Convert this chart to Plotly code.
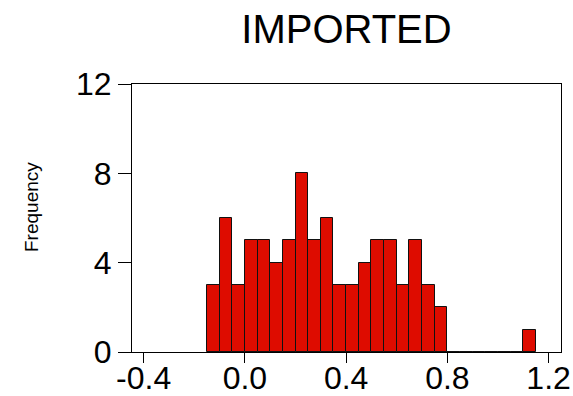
import plotly.graph_objects as go

# Data
bin_start = -0.15
bin_width = 0.05
counts = [3, 6, 3, 5, 5, 4, 5, 8, 5, 6, 3, 3, 4, 5, 5, 3, 5, 3, 2,
          0, 0, 0, 0, 0, 0, 1]
x_ticks = [-0.4, 0.0, 0.4, 0.8, 1.2]
x_tick_labels = ["-0.4", "0.0", "0.4", "0.8", "1.2"]
y_ticks = [0, 4, 8, 12]
y_tick_labels = ["0", "4", "8", "12"]
title_text = "IMPORTED"
y_title = "Frequency"

centers = [bin_start + bin_width * (i + 0.5) for i in range(len(counts))]

font_main = "Liberation Sans, Arial, sans-serif"

fig = go.Figure(go.Bar(
    x=centers,
    y=counts,
    width=bin_width,
    marker=dict(color="#DE0C00", line=dict(color="#111111", width=1)),
    hoverinfo="x+y",
))

fig.update_layout(
    width=573, height=396,
    margin=dict(l=132, r=12, t=84, b=44, autoexpand=False),
    paper_bgcolor="white", plot_bgcolor="white",
    bargap=0,
    showlegend=False,
    title=dict(text=title_text, x=0.5, xref="paper", xanchor="center",
               y=1 - 29 / 396, yref="container", yanchor="middle",
               font=dict(family=font_main, size=40, color="black")),
    font=dict(family=font_main, color="black"),
)

fig.update_xaxes(
    range=[-0.446, 1.249], automargin=False,
    tickmode="array", tickvals=x_ticks, ticktext=x_tick_labels,
    ticks="outside", ticklen=10, tickwidth=1, tickcolor="black",
    ticklabelstandoff=-12,
    showline=True, linecolor="black", linewidth=1, mirror=True,
    showgrid=False, zeroline=False,
    tickfont=dict(family=font_main, size=32, color="black"),
)
fig.update_yaxes(
    range=[0, 12], automargin=False,
    tickmode="array", tickvals=y_ticks, ticktext=y_tick_labels,
    ticks="outside", ticklen=13, tickwidth=1, tickcolor="black",
    showline=True, linecolor="black", linewidth=1, mirror=True,
    showgrid=False, zeroline=False,
    tickfont=dict(family=font_main, size=32, color="black"),
)

fig.add_annotation(
    text=y_title, textangle=-90,
    xref="paper", yref="paper",
    x=-(132 - 31) / (573 - 132 - 12), y=(352 - 207) / (352 - 84),
    xanchor="center", yanchor="middle", showarrow=False,
    font=dict(family=font_main, size=19, color="black"),
)

fig.write_html(
    "out.html",
    config={"displayModeBar": False},
    post_script="document.body.style.margin='0';document.body.style.overflow='hidden';",
)
